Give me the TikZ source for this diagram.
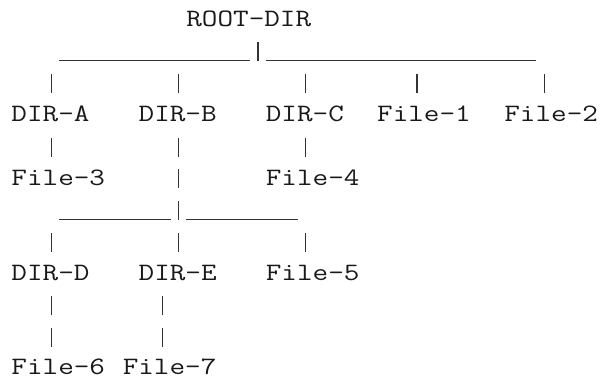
\documentclass[tikz,border=0pt]{standalone}
\usepackage{fontspec}
\usepackage{graphicx}
\usetikzlibrary{calc}
\newcommand\mono[1]{\scalebox{1.211}[1]{#1}}
% vertical glyph-like bar: node, column offset, line offset
\newcommand\vbarat[3]{\draw[conn] ($(#1.base west)+(#2+0.5,#3+0.0946)$) -- ++(0,-0.5993);}
% underscore run: node, first column offset, last column offset, line offset
\newcommand\hbarat[4]{\draw[conn] ($(#1.base west)+(#2,#4+0.0789)$) -- ($(#1.base west)+(#3+1,#4+0.0789)$);}
\tikzset{
  lbl/.style={anchor=base west, inner sep=0pt, outer sep=0pt, text depth=0pt,
    font=\fontsize{25pt}{30pt}\selectfont\ttfamily, text=black!90},
  conn/.style={line width=1.1pt, draw=black!80}
}
\begin{document}
\begin{tikzpicture}[x=15.9pt, y=-31.7pt]
\useasboundingbox (-0.7233,-0.8423) rectangle (37.138,11.082);
% labels
\node[lbl] (root) at (11,0) {\mono{ROOT-DIR}};
\node[lbl] (dira) at (0,3) {\mono{DIR-A}};
\node[lbl] (dirb) at (8,3) {\mono{DIR-B}};
\node[lbl] (dirc) at (16,3) {\mono{DIR-C}};
\node[lbl] (f1) at (23,3) {\mono{File-1}};
\node[lbl] (f2) at (31,3) {\mono{File-2}};
\node[lbl] (f3) at (0,5) {\mono{File-3}};
\node[lbl] (f4) at (16,5) {\mono{File-4}};
\node[lbl] (dird) at (0,8) {\mono{DIR-D}};
\node[lbl] (dire) at (8,8) {\mono{DIR-E}};
\node[lbl] (f5) at (16,8) {\mono{File-5}};
\node[lbl] (f6) at (0,10.98) {\mono{File-6}};
\node[lbl] (f7) at (7,10.98) {\mono{File-7}};
% root branch
\hbarat{root}{-8}{3}{1}
\vbarat{root}{4}{1}
\hbarat{root}{5}{21}{1}
\vbarat{dira}{2}{-1}
\vbarat{dirb}{2}{-1}
\vbarat{dirc}{2}{-1}
\vbarat{f1}{2}{-1}
\vbarat{f2}{2}{-1}
% second level
\vbarat{dira}{2}{1}
\vbarat{dirc}{2}{1}
\vbarat{dirb}{2}{1}
\vbarat{dirb}{2}{2}
\vbarat{dirb}{2}{3}
\hbarat{dirb}{-5}{1}{3}
\hbarat{dirb}{3}{9}{3}
\vbarat{dird}{2}{-1}
\vbarat{dire}{2}{-1}
\vbarat{f5}{2}{-1}
% third level
\vbarat{dird}{2}{1}
\vbarat{dird}{2}{2}
\vbarat{dire}{1}{1}
\vbarat{dire}{1}{2}
\end{tikzpicture}
\end{document}
